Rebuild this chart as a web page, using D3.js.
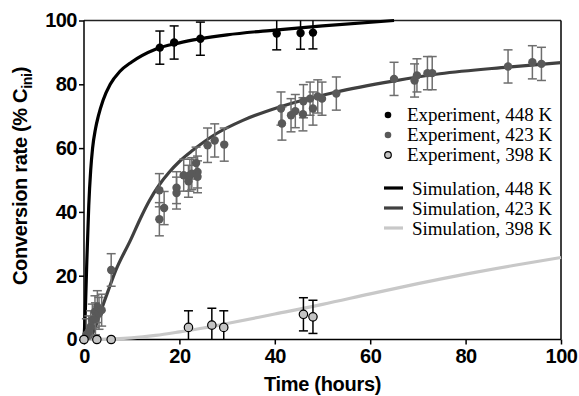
<!DOCTYPE html>
<html>
<head>
<meta charset="utf-8">
<script src="https://cdn.jsdelivr.net/npm/d3@7"></script>
<style>
  body { margin: 0; background: #fff; }
  svg { display: block; }
  .tick text { font-family: "Liberation Sans", Arial, sans-serif; font-weight: bold; }
</style>
</head>
<body>
<svg id="chart" width="579" height="396"></svg>
<script>
// experiment, 448 K
const hours448 = [15.9, 18.9, 24.4, 40.4, 45.4, 48.0];
const conv448 = [91.5, 93.1, 94.3, 95.9, 96.1, 96.2];
const err448 = [5.2, 5.2, 5.2, 5.1, 5.1, 5.1];

// experiment, 423 K
const hours423 = [0.5, 1.0, 1.4, 1.75, 2.3, 2.4, 2.8, 3.15, 3.7, 5.7,
  15.8, 15.8, 16.8, 19.4, 19.4, 20.9, 21.9, 22.2, 22.6, 23.5, 23.8, 23.8, 25.9, 27.4, 29.4,
  41.3, 41.5, 43.4, 44.3, 45.9, 46.0, 47.4, 48.0, 49.0, 49.9, 52.9,
  65.0, 69.3, 69.8, 72.0, 73.0, 88.9, 94.0, 95.9];
const conv423 = [1.5, 2.4, 4.0, 6.1, 8.7, 6.5, 10.3, 8.2, 9.2, 21.8,
  46.8, 37.7, 41.2, 47.6, 45.9, 51.5, 49.6, 51.5, 52.0, 55.3, 52.5, 51.0, 60.9, 62.4, 61.1,
  72.4, 67.7, 70.3, 71.6, 70.6, 74.7, 75.5, 72.4, 76.2, 75.5, 77.1,
  81.7, 81.2, 82.8, 83.5, 83.5, 85.6, 86.9, 86.4];
const err423 = [5, 5, 5, 5, 5, 5, 5, 5, 5, 5.1,
  5.2, 5.2, 5.2, 5, 5, 5, 5, 5, 5, 5, 5, 5, 5.4, 5.2, 5.2,
  5.2, 5.2, 5.2, 5.2, 5.2, 5.2, 5.2, 5.2, 5.2, 5.2, 5.2,
  5.2, 5.2, 5.2, 5.2, 5.2, 5.2, 5.2, 5.2];

// experiment, 398 K
const hours398 = [0, 2.7, 5.7, 21.9, 26.8, 29.3, 46.0, 48.0];
const conv398 = [0, 0, 0, 3.8, 4.5, 3.8, 7.9, 7.1];
const err398 = [0, 0, 0, 5.2, 5.3, 5.2, 5.2, 5.2];

// simulation curves
const simHours448 = [0, 0.3, 0.6, 1.0, 1.4, 1.8, 2.4, 3.0, 4.0, 5.5, 7.5, 10, 15, 20, 30, 40, 50, 65];
const simConv448 = [0, 10, 25, 42, 53, 60, 66, 70, 75, 80, 84, 87, 91, 93, 95.5, 97, 98.3, 100];
const simHours423 = [0, 1.2, 2, 3, 3.8, 5, 6.7, 9.7, 12, 13.7, 15.8, 17.9, 20, 22.8, 27.7, 33.3, 41, 52.9, 64.8, 74.6, 88.9, 100];
const simConv423 = [0, 0.5, 2.5, 6.5, 10, 15, 21.8, 31, 38.5, 43.5, 48.5, 52.5, 55.8, 59.3, 64.5, 68.7, 72.9, 77.6, 81, 83.3, 85.4, 86.8];
const simHours398 = [0, 5, 10, 15, 20, 25, 30, 40, 50, 60, 70, 80, 90, 100];
const simConv398 = [0, 0.1, 0.5, 1.3, 2.4, 3.6, 5, 8, 11, 14.3, 17.5, 20.5, 23.2, 25.7];

const xTicks = [0, 20, 40, 60, 80, 100];
const yTicks = [0, 20, 40, 60, 80, 100];

const expLabels = ["Experiment, 448 K", "Experiment, 423 K", "Experiment, 398 K"];
const simLabels = ["Simulation, 448 K", "Simulation, 423 K", "Simulation, 398 K"];

const svg = d3.select("#chart");
const x = d3.scaleLinear().domain([0, 100]).range([84, 561]);
const y = d3.scaleLinear().domain([0, 100]).range([339.5, 20.5]);

// frame (top / right)
svg.append("line").attr("x1", x(0)).attr("x2", x(100)).attr("y1", y(100)).attr("y2", y(100))
  .attr("stroke", "#222").attr("stroke-width", 1.5);
svg.append("line").attr("x1", x(100)).attr("x2", x(100)).attr("y1", y(0)).attr("y2", y(100))
  .attr("stroke", "#000").attr("stroke-width", 1.5);

const xAxis = svg.append("g").attr("transform", `translate(0,${y(0)})`)
  .call(d3.axisBottom(x).tickValues(xTicks).tickSize(5).tickPadding(4));
const yAxis = svg.append("g").attr("transform", `translate(${x(0)},0)`)
  .call(d3.axisLeft(y).tickValues(yTicks).tickSize(5).tickPadding(2));
[xAxis, yAxis].forEach(a => {
  a.selectAll("path, line").attr("stroke", "#000").attr("stroke-width", 1.5);
  a.select(".domain").attr("d", a === xAxis ? `M${x(0)},0H${x(100)}` : `M0,${y(0)}V${y(100)}`);
  a.selectAll("text").attr("font-size", 20).attr("fill", "#000").style("letter-spacing", "-0.5px");
});
xAxis.selectAll("text").attr("dy", "0.71em");

// axis titles
svg.append("text").attr("x", (x(0) + x(100)) / 2).attr("y", 391)
  .attr("text-anchor", "middle")
  .attr("font-family", "Liberation Sans, Arial, sans-serif").attr("font-weight", "bold")
  .attr("font-size", 20).style("letter-spacing", "-0.3px")
  .text("Time (hours)");

const yTitle = svg.append("text")
  .attr("transform", "translate(27,176) rotate(-90)")
  .attr("text-anchor", "middle")
  .attr("font-family", "Liberation Sans, Arial, sans-serif").attr("font-weight", "bold")
  .attr("font-size", 20).style("letter-spacing", "-0.3px");
yTitle.append("tspan").text("Conversion rate (% C");
yTitle.append("tspan").attr("font-size", 14).attr("dy", 5).text("ini");
yTitle.append("tspan").attr("dy", -5).text(")");

// simulation curves
const line = d3.line().x(d => x(d[0])).y(d => y(d[1])).curve(d3.curveMonotoneX);
const curves = [
  { h: simHours398, v: simConv398, color: "#c8c8c8" },
  { h: simHours423, v: simConv423, color: "#404040" },
  { h: simHours448, v: simConv448, color: "#000" },
];
curves.forEach(c => {
  svg.append("path").datum(c.h.map((h, i) => [h, c.v[i]]))
    .attr("d", line).attr("fill", "none")
    .attr("stroke", c.color).attr("stroke-width", 3.2);
});

// experiment points with error bars
function drawSeries(hours, conv, err, opts) {
  const g = svg.append("g");
  hours.forEach((h, i) => {
    if (err[i] <= 0) return;
    const lo = Math.max(0, conv[i] - err[i]);
    const hi = Math.min(100, conv[i] + err[i]);
    const cx = x(h);
    g.append("line").attr("x1", cx).attr("x2", cx).attr("y1", y(lo)).attr("y2", y(hi))
      .attr("stroke", opts.bar).attr("stroke-width", 1.5);
    [lo, hi].forEach(v => {
      if (v <= 0 || v >= 100) return;
      g.append("line").attr("x1", cx - 4.5).attr("x2", cx + 4.5).attr("y1", y(v)).attr("y2", y(v))
        .attr("stroke", opts.bar).attr("stroke-width", 1.5);
    });
  });
  hours.forEach((h, i) => {
    g.append("circle").attr("cx", x(h)).attr("cy", y(conv[i])).attr("r", 4.2)
      .attr("fill", opts.fill)
      .attr("stroke", opts.stroke || "none").attr("stroke-width", 1.2);
  });
}
drawSeries(hours423, conv423, err423, { fill: "#595959", bar: "#6e6e6e" });
drawSeries(hours398, conv398, err398, { fill: "#c4c4c4", bar: "#000", stroke: "#000" });
drawSeries(hours448, conv448, err448, { fill: "#000", bar: "#000" });

// legend
const expStyles = [
  { fill: "#000", stroke: "none" },
  { fill: "#595959", stroke: "none" },
  { fill: "#c4c4c4", stroke: "#000" },
];
expLabels.forEach((t, i) => {
  const by = 121 + i * 20;
  svg.append("circle").attr("cx", 388).attr("cy", by - 6).attr("r", 3.3)
    .attr("fill", expStyles[i].fill).attr("stroke", expStyles[i].stroke).attr("stroke-width", 1.2);
  svg.append("text").attr("x", 407).attr("y", by)
    .attr("font-family", "Liberation Serif, Times New Roman, serif").attr("font-size", 19)
    .attr("fill", "#000").text(t);
});
simLabels.forEach((t, i) => {
  const by = 194.5 + i * 20;
  svg.append("line").attr("x1", 384).attr("x2", 403).attr("y1", by - 6.5).attr("y2", by - 6.5)
    .attr("stroke", curves[2 - i].color).attr("stroke-width", 3.2);
  svg.append("text").attr("x", 412).attr("y", by)
    .attr("font-family", "Liberation Serif, Times New Roman, serif").attr("font-size", 19)
    .attr("fill", "#000").text(t);
});
</script>
</body>
</html>
